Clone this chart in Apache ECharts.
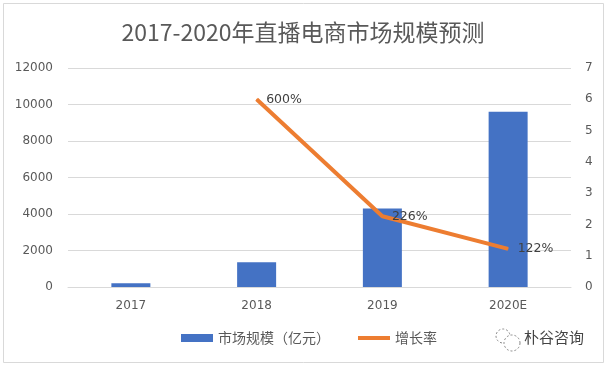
<!DOCTYPE html>
<html>
<head>
<meta charset="utf-8">
<script src="https://cdn.jsdelivr.net/npm/echarts@6/dist/echarts.min.js"></script>
<style>
html,body{margin:0;padding:0;background:#fff;}
#main{width:606px;height:366px;}
</style>
</head>
<body>
<div id="main"></div>
<script>
var categories = ['2017', '2018', '2019', '2020E'];
var marketSize = [200, 1350, 4300, 9600];
var growthRate = ['-', 6.00, 2.26, 1.22];
var leftTicks = [0, 12000, 2000];
var rightTicks = [0, 7, 1];

var FONT = '"Noto Sans CJK SC", "Noto Sans", sans-serif';
var NUMFONT = '"DejaVu Sans", "Noto Sans CJK SC", sans-serif';
var chart = echarts.init(document.getElementById('main'));
chart.setOption({
  backgroundColor: '#ffffff',
  animation: false,
  title: {
    text: '2017-2020年直播电商市场规模预测',
    left: 'center',
    top: 16,
    textStyle: { fontFamily: FONT, fontSize: 23, fontWeight: 'normal', color: '#595959' }
  },
  grid: { left: 68, right: 35, top: 68, bottom: 79 },
  legend: {
    bottom: 16,
    left: 176,
    itemGap: 28,
    itemWidth: 32,
    itemHeight: 8,
    textStyle: { fontFamily: FONT, fontSize: 14, color: '#595959' },
    data: [
      { name: '市场规模（亿元）', icon: 'rect' },
      { name: '增长率', icon: 'path://M0,0h32v4h-32z' }
    ]
  },
  xAxis: {
    type: 'category',
    data: categories,
    axisLine: { lineStyle: { color: '#d9d9d9' } },
    axisTick: { show: false },
    axisLabel: { fontFamily: NUMFONT, fontSize: 12, color: '#595959', margin: 13 }
  },
  yAxis: [
    {
      type: 'value', min: leftTicks[0], max: leftTicks[1], interval: leftTicks[2],
      axisLine: { show: false }, axisTick: { show: false },
      axisLabel: { fontFamily: NUMFONT, fontSize: 12, color: '#595959', margin: 15, formatter: function (v) { return String(v); } },
      splitLine: { lineStyle: { color: '#d9d9d9' } }
    },
    {
      type: 'value', min: rightTicks[0], max: rightTicks[1], interval: rightTicks[2],
      axisLine: { show: false }, axisTick: { show: false },
      axisLabel: { fontFamily: NUMFONT, fontSize: 12, color: '#595959', margin: 14 },
      splitLine: { show: false }
    }
  ],
  series: [
    {
      name: '市场规模（亿元）',
      type: 'bar',
      data: marketSize,
      barWidth: 39,
      itemStyle: { color: '#4472C4' }
    },
    {
      name: '增长率',
      type: 'line',
      yAxisIndex: 1,
      data: growthRate,
      symbol: 'circle',
      symbolSize: 1,
      lineStyle: { color: '#ED7D31', width: 4 },
      itemStyle: { color: '#ED7D31' },
      label: {
        show: true,
        position: 'right',
        distance: 9,
        fontFamily: NUMFONT,
        fontSize: 12.5,
        color: '#404040',
        formatter: function (p) { return Math.round(p.value * 100) + '%'; }
      }
    }
  ],
  graphic: [
    { type: 'rect', shape: { x: 3.5, y: 3.5, width: 600, height: 359 }, style: { fill: 'none', stroke: '#d9d9d9', lineWidth: 1 }, silent: true },
    { type: 'circle', shape: { cx: 503, cy: 336, r: 7 }, style: { fill: '#fff', stroke: '#888', lineWidth: 1, lineDash: [2, 2] } },
    { type: 'circle', shape: { cx: 512, cy: 343, r: 8 }, style: { fill: '#fff', stroke: '#888', lineWidth: 1, lineDash: [2, 2] } },
    { type: 'text', left: 524, top: 330, style: { text: '朴谷咨询', fontFamily: FONT, fontSize: 15, fill: '#444' } }
  ]
});
</script>
</body>
</html>
